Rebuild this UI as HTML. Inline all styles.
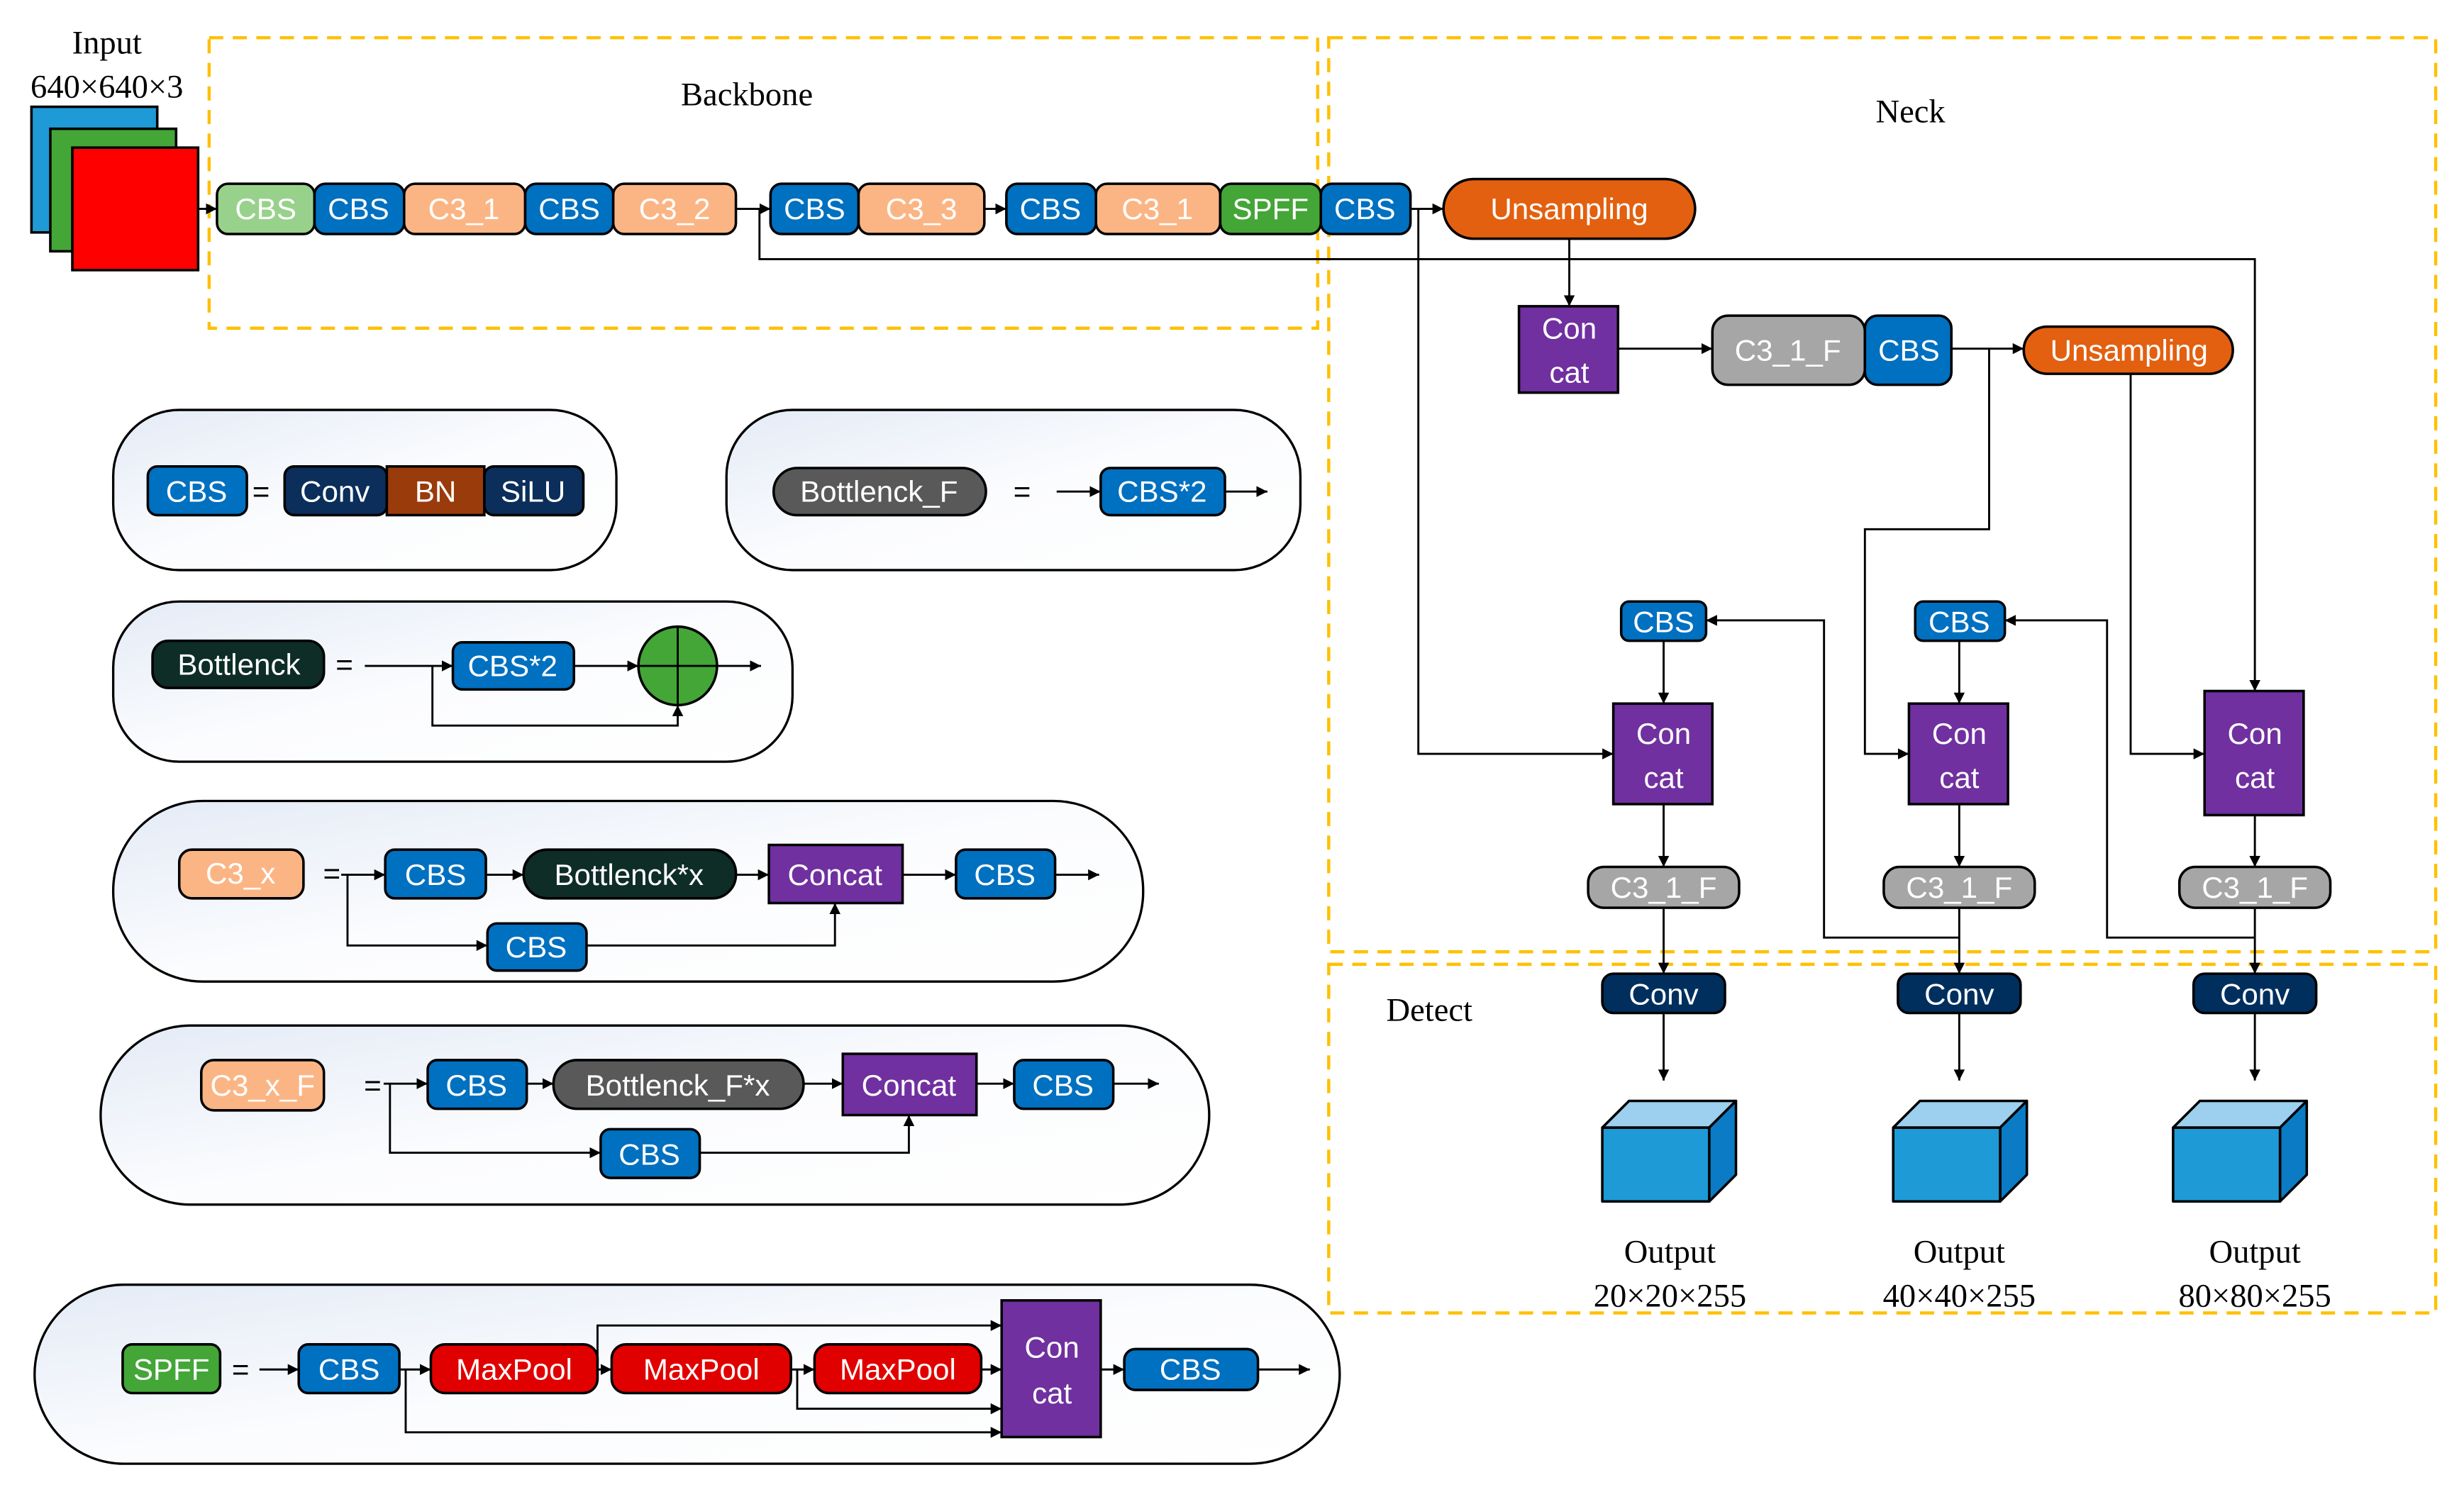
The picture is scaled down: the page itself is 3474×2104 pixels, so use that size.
<!DOCTYPE html>
<html><head><meta charset="utf-8"><style>
html,body{margin:0;padding:0;background:#fff}
svg{display:block}
.t{font-family:"Liberation Sans","DejaVu Sans",sans-serif;font-size:19px;fill:#fff;text-anchor:middle;dominant-baseline:central}
.s{font-family:"Liberation Serif",serif;font-size:21px;fill:#000;text-anchor:middle}
.b{stroke:#000;stroke-width:1.6}
.l{stroke:#000;stroke-width:1.3;fill:none}
.d{stroke:#ffc000;stroke-width:2;fill:none;stroke-dasharray:9 6}
.p{stroke:#000;stroke-width:1.5;fill:url(#g)}
</style></head><body>
<svg width="3474" height="2104" viewBox="0 0 1567 950" preserveAspectRatio="none" xmlns="http://www.w3.org/2000/svg">
<defs>
<marker id="a" viewBox="0 0 10 10" refX="10" refY="5" markerWidth="7" markerHeight="7" orient="auto" markerUnits="userSpaceOnUse"><path d="M0,0L10,5L0,10z" fill="#000"/></marker>
<linearGradient id="g" x1="0" y1="0" x2="1" y2="1"><stop offset="0" stop-color="#e4ebf6"/><stop offset="0.5" stop-color="#fbfcfe"/><stop offset="1" stop-color="#fff"/></linearGradient>
</defs>

<rect class="d" x="133" y="24" width="705" height="185"/>
<rect class="d" x="845" y="24" width="704" height="582"/>
<rect class="d" x="845" y="614" width="704" height="222"/>

<text class="s" x="68" y="34">Input</text>
<text class="s" x="68" y="62">640×640×3</text>
<text class="s" x="475" y="67">Backbone</text>
<text class="s" x="1215" y="78">Neck</text>
<text class="s" x="909" y="650">Detect</text>

<rect x="20" y="68" width="80" height="80" fill="#1e9ad6" class="b"/>
<rect x="32" y="82" width="80" height="78" fill="#43a637" class="b"/>
<rect x="46" y="94" width="80" height="78" fill="#ff0000" class="b"/>
<line class="l" x1="126" y1="133" x2="138" y2="133" marker-end="url(#a)"/>

<rect x="138" y="117" width="62" height="32" rx="7" fill="#98d18b" class="b"/><text class="t" x="169" y="133">CBS</text>
<rect x="200" y="117" width="57" height="32" rx="7" fill="#0070c0" class="b"/><text class="t" x="228" y="133">CBS</text>
<rect x="257" y="117" width="77" height="32" rx="7" fill="#fbb584" class="b"/><text class="t" x="295" y="133">C3_1</text>
<rect x="334" y="117" width="56" height="32" rx="7" fill="#0070c0" class="b"/><text class="t" x="362" y="133">CBS</text>
<rect x="390" y="117" width="78" height="32" rx="7" fill="#fbb584" class="b"/><text class="t" x="429" y="133">C3_2</text>
<line class="l" x1="468" y1="133" x2="490" y2="133" marker-end="url(#a)"/>
<rect x="490" y="117" width="56" height="32" rx="7" fill="#0070c0" class="b"/><text class="t" x="518" y="133">CBS</text>
<rect x="546" y="117" width="80" height="32" rx="7" fill="#fbb584" class="b"/><text class="t" x="586" y="133">C3_3</text>
<line class="l" x1="626" y1="133" x2="640" y2="133" marker-end="url(#a)"/>
<rect x="640" y="117" width="57" height="32" rx="7" fill="#0070c0" class="b"/><text class="t" x="668" y="133">CBS</text>
<rect x="697" y="117" width="79" height="32" rx="7" fill="#fbb584" class="b"/><text class="t" x="736" y="133">C3_1</text>
<rect x="776" y="117" width="64" height="32" rx="7" fill="#43a637" class="b"/><text class="t" x="808" y="133">SPFF</text>
<rect x="840" y="117" width="57" height="32" rx="7" fill="#0070c0" class="b"/><text class="t" x="868" y="133">CBS</text>
<line class="l" x1="897" y1="133" x2="918" y2="133" marker-end="url(#a)"/>
<rect x="918" y="114" width="160" height="38" rx="19" fill="#e26010" class="b"/><text class="t" x="998" y="133">Unsampling</text>

<polyline class="l" points="483,133 483,165 1434,165 1434,440" marker-end="url(#a)"/>
<polyline class="l" points="902,133 902,480 1026,480" marker-end="url(#a)"/>
<line class="l" x1="998" y1="152" x2="998" y2="195" marker-end="url(#a)"/>
<rect x="966" y="195" width="63" height="55" fill="#7030a0" class="b"/><text class="t" x="998" y="209">Con</text><text class="t" x="998" y="237">cat</text>
<line class="l" x1="1029" y1="222" x2="1089" y2="222" marker-end="url(#a)"/>
<rect x="1089" y="201" width="97" height="44" rx="10" fill="#a6a6a6" class="b"/><text class="t" x="1137" y="223">C3_1_F</text>
<rect x="1186" y="201" width="55" height="44" rx="8" fill="#0070c0" class="b"/><text class="t" x="1214" y="223">CBS</text>
<line class="l" x1="1241" y1="222" x2="1287" y2="222" marker-end="url(#a)"/>
<rect x="1287" y="208" width="133" height="30" rx="15" fill="#e26010" class="b"/><text class="t" x="1354" y="223">Unsampling</text>
<polyline class="l" points="1265,222 1265,337 1186,337 1186,480 1214,480" marker-end="url(#a)"/>
<polyline class="l" points="1355,238 1355,480 1402,480" marker-end="url(#a)"/>

<rect x="1031" y="383" width="54" height="25" rx="5" fill="#0070c0" class="b"/><text class="t" x="1058" y="396">CBS</text>
<rect x="1218" y="383" width="57" height="25" rx="5" fill="#0070c0" class="b"/><text class="t" x="1246" y="396">CBS</text>
<line class="l" x1="1058" y1="408" x2="1058" y2="448" marker-end="url(#a)"/>
<line class="l" x1="1246" y1="408" x2="1246" y2="448" marker-end="url(#a)"/>
<rect x="1026" y="448" width="63" height="64" fill="#7030a0" class="b"/><text class="t" x="1058" y="467">Con</text><text class="t" x="1058" y="495">cat</text>
<rect x="1214" y="448" width="63" height="64" fill="#7030a0" class="b"/><text class="t" x="1246" y="467">Con</text><text class="t" x="1246" y="495">cat</text>
<rect x="1402" y="440" width="63" height="79" fill="#7030a0" class="b"/><text class="t" x="1434" y="467">Con</text><text class="t" x="1434" y="495">cat</text>
<line class="l" x1="1058" y1="512" x2="1058" y2="552" marker-end="url(#a)"/>
<line class="l" x1="1246" y1="512" x2="1246" y2="552" marker-end="url(#a)"/>
<line class="l" x1="1434" y1="519" x2="1434" y2="552" marker-end="url(#a)"/>
<rect x="1010" y="552" width="96" height="26" rx="10" fill="#a6a6a6" class="b"/><text class="t" x="1058" y="565">C3_1_F</text>
<rect x="1198" y="552" width="96" height="26" rx="10" fill="#a6a6a6" class="b"/><text class="t" x="1246" y="565">C3_1_F</text>
<rect x="1386" y="552" width="96" height="26" rx="10" fill="#a6a6a6" class="b"/><text class="t" x="1434" y="565">C3_1_F</text>
<line class="l" x1="1058" y1="578" x2="1058" y2="620" marker-end="url(#a)"/>
<line class="l" x1="1246" y1="578" x2="1246" y2="620" marker-end="url(#a)"/>
<line class="l" x1="1434" y1="578" x2="1434" y2="620" marker-end="url(#a)"/>
<polyline class="l" points="1246,597 1160,597 1160,395 1085,395" marker-end="url(#a)"/>
<polyline class="l" points="1434,597 1340,597 1340,395 1275,395" marker-end="url(#a)"/>
<rect x="1019" y="620" width="78" height="25" rx="7" fill="#002f5e" class="b"/><text class="t" x="1058" y="633">Conv</text>
<rect x="1207" y="620" width="78" height="25" rx="7" fill="#002f5e" class="b"/><text class="t" x="1246" y="633">Conv</text>
<rect x="1395" y="620" width="78" height="25" rx="7" fill="#002f5e" class="b"/><text class="t" x="1434" y="633">Conv</text>
<line class="l" x1="1058" y1="645" x2="1058" y2="688" marker-end="url(#a)"/>
<line class="l" x1="1246" y1="645" x2="1246" y2="688" marker-end="url(#a)"/>
<line class="l" x1="1434" y1="645" x2="1434" y2="688" marker-end="url(#a)"/>

<g class="b" stroke-linejoin="round">
<polygon points="1019,718 1036,701 1104,701 1087,718" fill="#9dcfee"/><polygon points="1087,718 1104,701 1104,748 1087,765" fill="#0a7bc4"/><rect x="1019" y="718" width="68" height="47" fill="#1e9ad6"/>
<polygon points="1204,718 1221,701 1289,701 1272,718" fill="#9dcfee"/><polygon points="1272,718 1289,701 1289,748 1272,765" fill="#0a7bc4"/><rect x="1204" y="718" width="68" height="47" fill="#1e9ad6"/>
<polygon points="1382,718 1399,701 1467,701 1450,718" fill="#9dcfee"/><polygon points="1450,718 1467,701 1467,748 1450,765" fill="#0a7bc4"/><rect x="1382" y="718" width="68" height="47" fill="#1e9ad6"/>
</g>
<text class="s" x="1062" y="804">Output</text><text class="s" x="1062" y="832">20×20×255</text>
<text class="s" x="1246" y="804">Output</text><text class="s" x="1246" y="832">40×40×255</text>
<text class="s" x="1434" y="804">Output</text><text class="s" x="1434" y="832">80×80×255</text>

<rect class="p" x="72" y="261" width="320" height="102" rx="42"/>
<rect x="94" y="297" width="63" height="31" rx="6" fill="#0070c0" class="b"/><text class="t" x="125" y="313">CBS</text>
<text class="t" x="166" y="313" style="fill:#000">=</text>
<rect x="181" y="297" width="65" height="31" rx="6" fill="#0b2e5a" class="b"/><text class="t" x="213" y="313">Conv</text>
<rect x="246" y="297" width="62" height="31" fill="#9a3b0c" class="b"/><text class="t" x="277" y="313">BN</text>
<rect x="308" y="297" width="63" height="31" rx="6" fill="#0b2e5a" class="b"/><text class="t" x="339" y="313">SiLU</text>

<rect class="p" x="462" y="261" width="365" height="102" rx="42"/>
<rect x="492" y="298" width="135" height="30" rx="15" fill="#595959" class="b"/><text class="t" x="559" y="313">Bottlenck_F</text>
<text class="t" x="650" y="313" style="fill:#000">=</text>
<line class="l" x1="672" y1="313" x2="700" y2="313" marker-end="url(#a)"/>
<rect x="700" y="298" width="79" height="30" rx="6" fill="#0070c0" class="b"/><text class="t" x="739" y="313">CBS*2</text>
<line class="l" x1="779" y1="313" x2="806" y2="313" marker-end="url(#a)"/>

<rect class="p" x="72" y="383" width="432" height="102" rx="42"/>
<rect x="97" y="408" width="109" height="30" rx="10" fill="#0d2d26" class="b"/><text class="t" x="152" y="423">Bottlenck</text>
<text class="t" x="219" y="423" style="fill:#000">=</text>
<line class="l" x1="232" y1="424" x2="288" y2="424" marker-end="url(#a)"/>
<rect x="288" y="409" width="77" height="30" rx="6" fill="#0070c0" class="b"/><text class="t" x="326" y="424">CBS*2</text>
<line class="l" x1="365" y1="424" x2="406" y2="424" marker-end="url(#a)"/>
<circle cx="431" cy="424" r="25" fill="#43a637" class="b"/>
<line class="l" x1="406" y1="424" x2="456" y2="424"/><line class="l" x1="431" y1="399" x2="431" y2="449"/>
<line class="l" x1="456" y1="424" x2="484" y2="424" marker-end="url(#a)"/>
<polyline class="l" points="275,424 275,462 431,462 431,449" marker-end="url(#a)"/>

<rect class="p" x="72" y="510" width="655" height="115" rx="57"/>
<rect x="114" y="541" width="79" height="31" rx="8" fill="#fbb584" class="b"/><text class="t" x="153" y="556">C3_x</text>
<text class="t" x="211" y="556" style="fill:#000">=</text>
<line class="l" x1="217" y1="557" x2="245" y2="557" marker-end="url(#a)"/>
<rect x="245" y="541" width="64" height="31" rx="6" fill="#0070c0" class="b"/><text class="t" x="277" y="557">CBS</text>
<line class="l" x1="309" y1="557" x2="333" y2="557" marker-end="url(#a)"/>
<rect x="333" y="541" width="135" height="31" rx="15" fill="#0d2d26" class="b"/><text class="t" x="400" y="557">Bottlenck*x</text>
<line class="l" x1="468" y1="557" x2="489" y2="557" marker-end="url(#a)"/>
<rect x="489" y="538" width="85" height="37" fill="#7030a0" class="b"/><text class="t" x="531" y="557">Concat</text>
<line class="l" x1="574" y1="557" x2="608" y2="557" marker-end="url(#a)"/>
<rect x="608" y="541" width="63" height="31" rx="6" fill="#0070c0" class="b"/><text class="t" x="639" y="557">CBS</text>
<line class="l" x1="671" y1="557" x2="699" y2="557" marker-end="url(#a)"/>
<polyline class="l" points="221,557 221,602 310,602" marker-end="url(#a)"/>
<rect x="310" y="588" width="63" height="30" rx="6" fill="#0070c0" class="b"/><text class="t" x="341" y="603">CBS</text>
<polyline class="l" points="373,602 531,602 531,575" marker-end="url(#a)"/>

<rect class="p" x="64" y="653" width="705" height="114" rx="57"/>
<rect x="128" y="675" width="78" height="32" rx="8" fill="#fbb584" class="b"/><text class="t" x="167" y="691">C3_x_F</text>
<text class="t" x="237" y="691" style="fill:#000">=</text>
<line class="l" x1="244" y1="690" x2="272" y2="690" marker-end="url(#a)"/>
<rect x="272" y="675" width="63" height="31" rx="6" fill="#0070c0" class="b"/><text class="t" x="303" y="691">CBS</text>
<line class="l" x1="335" y1="690" x2="352" y2="690" marker-end="url(#a)"/>
<rect x="352" y="675" width="159" height="31" rx="15" fill="#595959" class="b"/><text class="t" x="431" y="691">Bottlenck_F*x</text>
<line class="l" x1="511" y1="690" x2="536" y2="690" marker-end="url(#a)"/>
<rect x="536" y="671" width="85" height="39" fill="#7030a0" class="b"/><text class="t" x="578" y="691">Concat</text>
<line class="l" x1="621" y1="690" x2="645" y2="690" marker-end="url(#a)"/>
<rect x="645" y="675" width="63" height="31" rx="6" fill="#0070c0" class="b"/><text class="t" x="676" y="691">CBS</text>
<line class="l" x1="708" y1="690" x2="737" y2="690" marker-end="url(#a)"/>
<polyline class="l" points="248,690 248,734 382,734" marker-end="url(#a)"/>
<rect x="382" y="719" width="63" height="31" rx="6" fill="#0070c0" class="b"/><text class="t" x="413" y="735">CBS</text>
<polyline class="l" points="445,734 578,734 578,710" marker-end="url(#a)"/>

<rect class="p" x="22" y="818" width="830" height="114" rx="57"/>
<rect x="78" y="856" width="62" height="31" rx="6" fill="#43a637" class="b"/><text class="t" x="109" y="872">SPFF</text>
<text class="t" x="153" y="872" style="fill:#000">=</text>
<line class="l" x1="165" y1="872" x2="190" y2="872" marker-end="url(#a)"/>
<rect x="190" y="856" width="64" height="31" rx="6" fill="#0070c0" class="b"/><text class="t" x="222" y="872">CBS</text>
<line class="l" x1="254" y1="872" x2="274" y2="872" marker-end="url(#a)"/>
<rect x="274" y="856" width="106" height="31" rx="9" fill="#e00000" class="b"/><text class="t" x="327" y="872">MaxPool</text>
<line class="l" x1="380" y1="872" x2="389" y2="872" marker-end="url(#a)"/>
<rect x="389" y="856" width="114" height="31" rx="9" fill="#e00000" class="b"/><text class="t" x="446" y="872">MaxPool</text>
<line class="l" x1="503" y1="872" x2="518" y2="872" marker-end="url(#a)"/>
<rect x="518" y="856" width="106" height="31" rx="9" fill="#e00000" class="b"/><text class="t" x="571" y="872">MaxPool</text>
<line class="l" x1="624" y1="872" x2="637" y2="872" marker-end="url(#a)"/>
<rect x="637" y="828" width="63" height="87" fill="#7030a0" class="b"/><text class="t" x="669" y="858">Con</text><text class="t" x="669" y="887">cat</text>
<line class="l" x1="700" y1="872" x2="715" y2="872" marker-end="url(#a)"/>
<rect x="715" y="859" width="85" height="26" rx="7" fill="#0070c0" class="b"/><text class="t" x="757" y="872">CBS</text>
<line class="l" x1="800" y1="872" x2="833" y2="872" marker-end="url(#a)"/>
<polyline class="l" points="380,872 380,844 637,844" marker-end="url(#a)"/>
<polyline class="l" points="507,872 507,897 637,897" marker-end="url(#a)"/>
<polyline class="l" points="258,872 258,912 637,912" marker-end="url(#a)"/>
</svg>
</body></html>
